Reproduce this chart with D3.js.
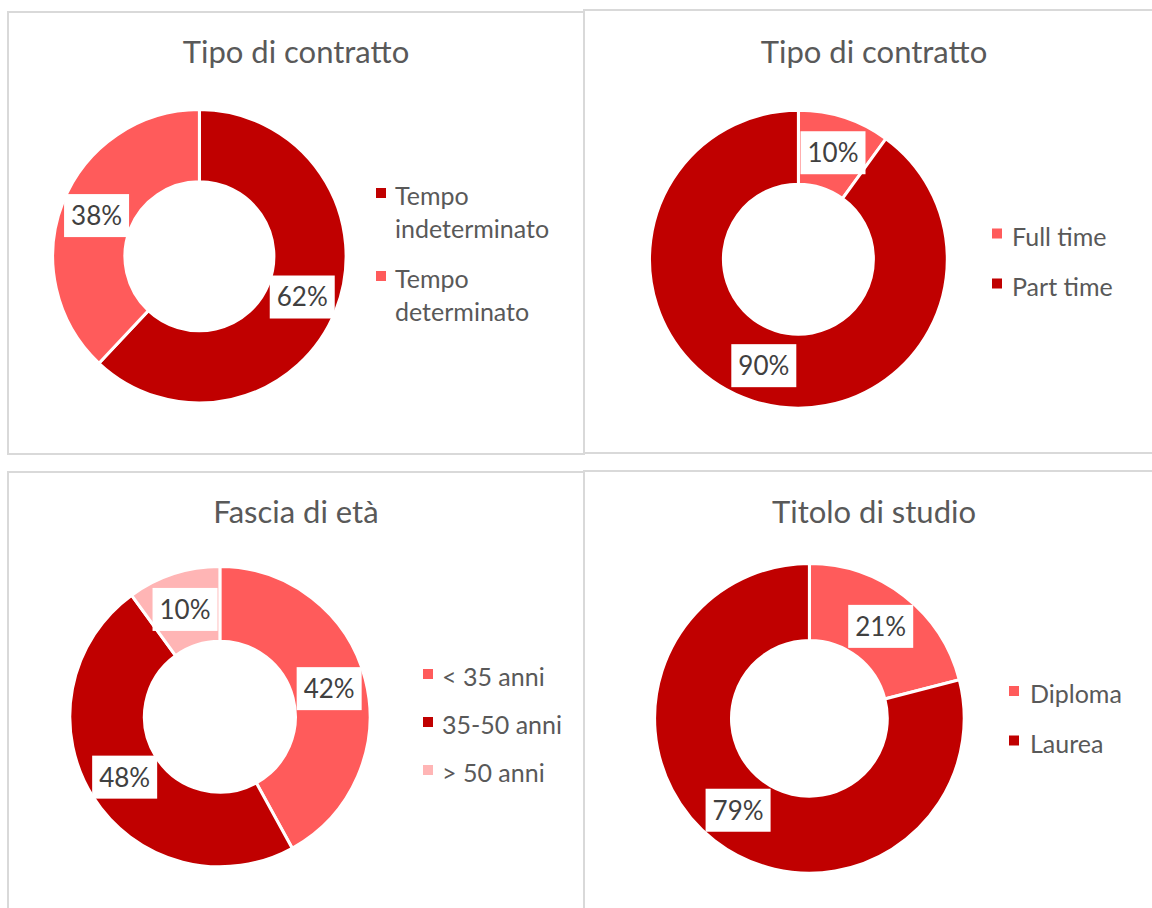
<!DOCTYPE html>
<html>
<head>
<meta charset="utf-8">
<script src="https://cdn.jsdelivr.net/npm/d3@7"></script>
<style>
  html, body { margin: 0; padding: 0; background: #fff; }
  svg { display: block; }
  text { font-family: Lato, "Open Sans", sans-serif; }
</style>
</head>
<body>
<svg id="chart" width="1152" height="908"></svg>
<script>
// ---- data ----
const titles = ["Tipo di contratto", "Tipo di contratto", "Fascia di età", "Titolo di studio"];

const contrattoCats = ["Tempo indeterminato", "Tempo determinato"];
const contrattoVals = [62, 38];

const orarioCats = ["Full time", "Part time"];
const orarioVals = [10, 90];

const etaCats = ["< 35 anni", "35-50 anni", "> 50 anni"];
const etaVals = [42, 48, 10];

const studioCats = ["Diploma", "Laurea"];
const studioVals = [21, 79];

// ---- styles / layout ----
const DARK = "#C00000", LIGHT = "#FF5B5B", PINK = "#FFB5B5";
const TEXT = "#595959", LABEL = "#404040", BORDER = "#D9D9D9";

const panels = [
  { title: titles[0], cats: contrattoCats, vals: contrattoVals, colors: [DARK, LIGHT],
    box: [8, 12, 584, 454], titleX: 296, titleY: 63,
    cx: 199.4, cy: 256.3, R: 145.2, r: 76,
    legX: 376, legTextX: 395, legY: [205, 288], wrap: true, lineH: 33 },
  { title: titles[1], cats: orarioCats, vals: orarioVals, colors: [LIGHT, DARK],
    box: [584, 10, 1160, 453], titleX: 874, titleY: 63,
    cx: 798.4, cy: 259.2, R: 147.4, r: 76.5,
    legX: 992, legTextX: 1012, legY: [245.5, 295.5] },
  { title: titles[2], cats: etaCats, vals: etaVals, colors: [LIGHT, DARK, PINK],
    box: [8, 472, 584, 920], titleX: 296, titleY: 523,
    cx: 219.9, cy: 716.7, R: 148.6, r: 77,
    legX: 423, legTextX: 442, legY: [686, 734, 782] },
  { title: titles[3], cats: studioCats, vals: studioVals, colors: [LIGHT, DARK],
    box: [584, 471, 1160, 920], titleX: 874, titleY: 523,
    cx: 809.4, cy: 718.3, R: 153.3, r: 79.4,
    legX: 1009, legTextX: 1030, legY: [703, 752.5] }
];

const svg = d3.select("#chart");
const STROKE = 3;

panels.forEach(p => {
  const g = svg.append("g");

  // border
  g.append("rect")
    .attr("x", p.box[0]).attr("y", p.box[1])
    .attr("width", p.box[2] - p.box[0]).attr("height", p.box[3] - p.box[1])
    .attr("fill", "none").attr("stroke", BORDER).attr("stroke-width", 2);

  // title
  g.append("text")
    .attr("x", p.titleX).attr("y", p.titleY)
    .attr("text-anchor", "middle")
    .attr("fill", TEXT)
    .attr("font-size", 31)
    .text(p.title);

  const color = d3.scaleOrdinal().domain(p.cats).range(p.colors);
  const data = p.cats.map((c, i) => ({ cat: c, val: p.vals[i] }));
  const pie = d3.pie().value(d => d.val).sort(null);
  const arc = d3.arc().innerRadius(p.r - STROKE / 2).outerRadius(p.R + STROKE / 2);
  const labelArc = d3.arc().innerRadius(p.r).outerRadius(p.R);
  const total = d3.sum(p.vals);

  const donut = g.append("g").attr("transform", `translate(${p.cx},${p.cy})`);
  const arcs = pie(data);

  donut.selectAll("path.slice")
    .data(arcs)
    .join("path")
    .attr("class", "slice")
    .attr("d", arc)
    .attr("fill", d => color(d.data.cat))
    .attr("stroke", "#fff")
    .attr("stroke-width", STROKE)
    .attr("stroke-linejoin", "miter");

  // data labels
  const lab = donut.selectAll("g.lab")
    .data(arcs)
    .join("g")
    .attr("class", "lab")
    .attr("transform", d => `translate(${labelArc.centroid(d)})`);

  lab.append("rect")
    .attr("x", -32.5).attr("y", -21.5)
    .attr("width", 65).attr("height", 43)
    .attr("fill", "#fff");

  lab.append("text")
    .attr("text-anchor", "middle")
    .attr("dy", "0.36em")
    .attr("fill", LABEL)
    .attr("font-size", 26)
    .text(d => d3.format(".0%")(d.data.val / total));

  // legend
  const leg = g.selectAll("g.leg")
    .data(data)
    .join("g")
    .attr("class", "leg");

  leg.append("rect")
    .attr("x", p.legX)
    .attr("y", (d, i) => p.legY[i] - 17)
    .attr("width", 10).attr("height", 10)
    .attr("fill", d => color(d.cat));

  leg.each(function (d, i) {
    const t = d3.select(this).append("text")
      .attr("x", p.legTextX)
      .attr("y", p.legY[i])
      .attr("fill", TEXT)
      .attr("font-size", 25);
    if (p.wrap) {
      d.cat.split(" ").forEach((w, j) => {
        t.append("tspan").attr("x", p.legTextX).attr("dy", j === 0 ? 0 : p.lineH).text(w);
      });
    } else {
      t.text(d.cat);
    }
  });
});
</script>
</body>
</html>
